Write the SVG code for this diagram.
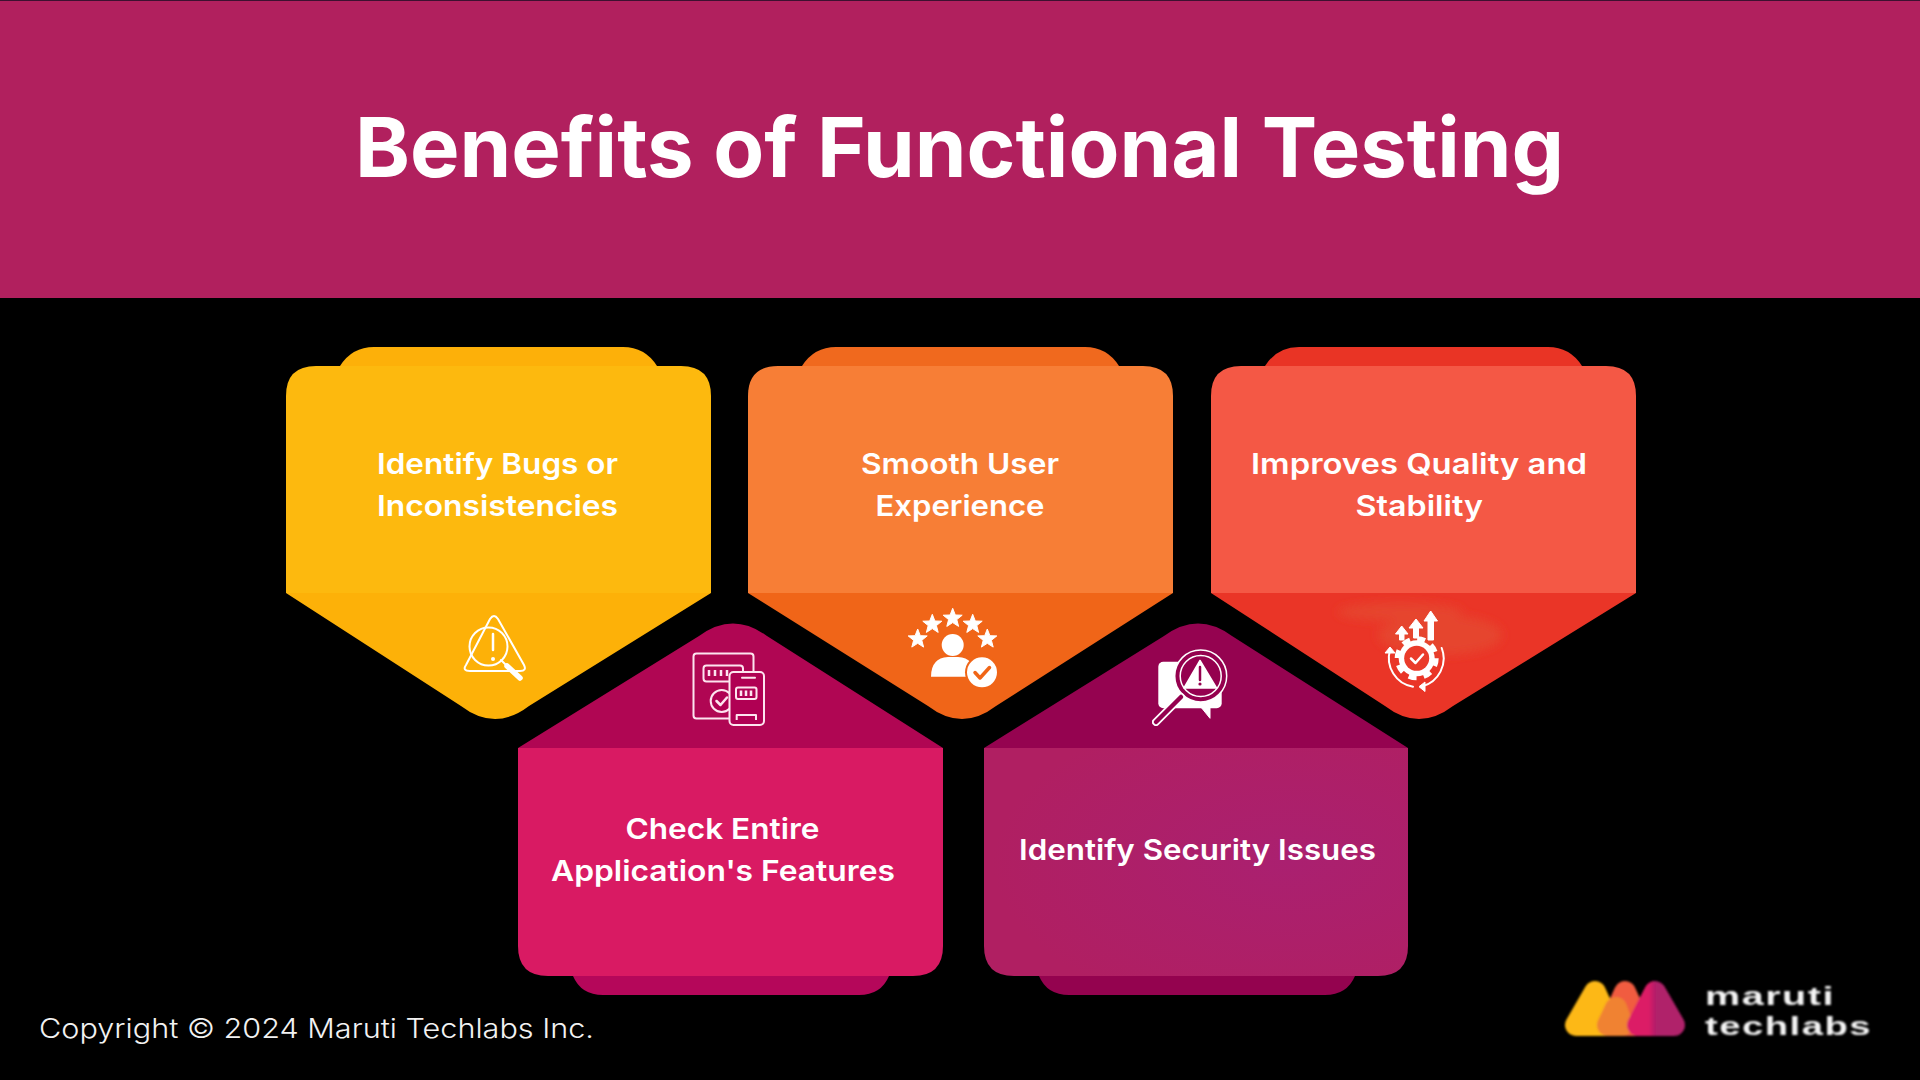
<svg xmlns="http://www.w3.org/2000/svg" width="1920" height="1080" viewBox="0 0 1920 1080">
<style>
.t{font-family:"Inter","Noto Sans",sans-serif;font-weight:600;font-size:29px;fill:#fff}
.ln{fill:none;stroke:#fff;stroke-linecap:round;stroke-linejoin:round}
</style>
<defs>
<filter id="soft" x="-5%" y="-5%" width="110%" height="110%"><feGaussianBlur stdDeviation="0.9"/></filter>
<filter id="soft2" x="-5%" y="-5%" width="110%" height="110%"><feGaussianBlur stdDeviation="0.35"/></filter>
<filter id="blot" x="-20%" y="-50%" width="140%" height="200%"><feGaussianBlur stdDeviation="5"/></filter>
<linearGradient id="half" x1="0" x2="1" y1="0" y2="0"><stop offset="0.3" stop-color="#dc1a66"/><stop offset="0.5" stop-color="#b0206a"/></linearGradient>
<radialGradient id="purp" cx="0.72" cy="0.5" r="0.7"><stop offset="0" stop-color="#aa2070"/><stop offset="1" stop-color="#b01f62"/></radialGradient>
<symbol id="star" viewBox="-10 -10 20 20" overflow="visible"><polygon points="0,-10 2.6,-3.3 9.5,-3.1 4.1,1.3 5.9,8.1 0,4.3 -5.9,8.1 -4.1,1.3 -9.5,-3.1 -2.6,-3.3" fill="#fff" stroke="#fff" stroke-linejoin="round"/></symbol>
</defs>
<rect width="1920" height="1080" fill="#000"/>
<g id="header">
<rect width="1920" height="298" fill="#b1205e"/>
<rect width="1920" height="1" fill="#3d1030"/>
<text x="355" y="177" font-family="Inter,'Noto Sans',sans-serif" font-weight="700" font-size="83" fill="#fff" textLength="1209" lengthAdjust="spacingAndGlyphs">Benefits of Functional Testing</text>
</g>

<g id="card-bugs">
<path d="M340,366 Q352,347 374,347 H623 Q645,347 657,366 Z" fill="#fdb009"/>
<path d="M286,593 L461,706 Q495,732 529,706 L711,593 Z" fill="#fdb108"/>
<path d="M286,593 V396 Q286,366 316,366 H681 Q711,366 711,396 V593 Z" fill="#fdb90e"/>
<text class="t" x="377" y="474" textLength="241" lengthAdjust="spacingAndGlyphs">Identify Bugs or</text>
<text class="t" x="377" y="516" textLength="241" lengthAdjust="spacingAndGlyphs">Inconsistencies</text>
<g id="icon-bugs" filter="url(#soft2)">
<path class="ln" stroke-width="2" d="M490,619 Q494,613 498,619 L524,665 Q527,671 520,671 H470 Q462,671 466,665 Z"/>
<circle class="ln" stroke-width="2" cx="488.5" cy="646.5" r="19"/>
<path class="ln" stroke-width="2.5" d="M493,634 V650"/>
<circle cx="493" cy="659" r="2" fill="#fff"/>
<path class="ln" stroke-width="2" d="M501,660 L507,666"/>
<path class="ln" stroke-width="5.5" d="M507,666 L520,678"/>
</g>
</g>

<g id="card-ux">
<path d="M802,366 Q814,347 836,347 H1085 Q1107,347 1119,366 Z" fill="#f0691e"/>
<path d="M748,593 L928,706 Q962,732 996,706 L1173,593 Z" fill="#f06518"/>
<path d="M748,593 V396 Q748,366 778,366 H1143 Q1173,366 1173,396 V593 Z" fill="#f77e36"/>
<text class="t" x="861" y="474" textLength="198" lengthAdjust="spacingAndGlyphs">Smooth User</text>
<text class="t" x="875.5" y="516" textLength="169" lengthAdjust="spacingAndGlyphs">Experience</text>
<g id="icon-ux" filter="url(#soft2)">
<use href="#star" x="-10" y="-10" width="20" height="20" transform="translate(917.7,639)"/>
<use href="#star" x="-10" y="-10" width="20" height="20" transform="translate(932.3,624.3)"/>
<use href="#star" x="-10" y="-10" width="20" height="20" transform="translate(952.7,618.3)"/>
<use href="#star" x="-10" y="-10" width="20" height="20" transform="translate(972.7,624.3)"/>
<use href="#star" x="-10" y="-10" width="20" height="20" transform="translate(987.3,639)"/>
<circle cx="952.7" cy="645" r="11" fill="#fff"/>
<path d="M931,676.7 Q931,658 948,657 H958 Q975,658 975,676.7 Z" fill="#fff"/>
<circle cx="982" cy="672.3" r="17" fill="#f06518"/>
<circle cx="982" cy="672.3" r="15" fill="#fff"/>
<path d="M975,672.5 L980,678 L989.5,667.5" fill="none" stroke="#f06518" stroke-width="3.5" stroke-linecap="round" stroke-linejoin="round"/>
</g>
</g>

<g id="card-quality">
<path d="M1265,366 Q1277,347 1299,347 H1548 Q1570,347 1582,366 Z" fill="#e93425"/>
<path d="M1211,593 L1385,706 Q1419,732 1453,706 L1636,593 Z" fill="#ea3527"/>
<g filter="url(#blot)" fill="#e6452f"><ellipse cx="1400" cy="612" rx="62" ry="9"/><ellipse cx="1440" cy="635" rx="62" ry="20"/></g>
<path d="M1211,593 V396 Q1211,366 1241,366 H1606 Q1636,366 1636,396 V593 Z" fill="#f45845"/>
<text class="t" x="1251" y="474" textLength="336" lengthAdjust="spacingAndGlyphs">Improves Quality and</text>
<text class="t" x="1355.5" y="516" textLength="127.5" lengthAdjust="spacingAndGlyphs">Stability</text>
<g id="icon-quality" filter="url(#soft2)">
<circle cx="1416.7" cy="658.3" r="18" fill="#fff"/>
<circle cx="1416.7" cy="658.3" r="19.5" fill="none" stroke="#fff" stroke-width="5" stroke-dasharray="8 7.3"/>
<circle cx="1416.7" cy="658.3" r="12.5" fill="#ea3a2c"/>
<path class="ln" stroke-width="2.5" d="M1411,658.5 L1415.5,663 L1423,654.5"/>
<path class="ln" stroke-width="2" d="M1413,686.7 A29,29 0 0 1 1390,650"/>
<polygon points="1390,647 1385,653 1395,653" fill="#fff" stroke="#fff" stroke-linejoin="round"/>
<path class="ln" stroke-width="2" d="M1441.7,648 A29,29 0 0 1 1422,686.5"/>
<polygon points="1419,686.7 1425,682 1425,691.5" fill="#fff" stroke="#fff" stroke-linejoin="round"/>
<polygon points="1401.7,626 1395.5,634 1399.5,634 1399.5,640 1404,640 1404,634 1408,634" fill="#fff" stroke="#fff" stroke-linejoin="round"/>
<polygon points="1416,619 1409,628 1413.5,628 1413.5,638 1418.5,638 1418.5,628 1423,628" fill="#fff" stroke="#fff" stroke-linejoin="round"/>
<polygon points="1430.7,611 1424,621 1428,621 1428,640 1433.5,640 1433.5,621 1437.5,621" fill="#fff" stroke="#fff" stroke-linejoin="round"/>
</g>
</g>

<g id="card-features">
<path d="M573,976 Q581,995 603,995 H859 Q881,995 889,976 Z" fill="#b5075a"/>
<path d="M518,748 L699,636 Q733,611 767,636 L943,748 Z" fill="#b00653"/>
<path d="M518,748 V946 Q518,976 548,976 H913 Q943,976 943,946 V748 Z" fill="#d91a63"/>
<text class="t" x="625.5" y="839" textLength="194" lengthAdjust="spacingAndGlyphs">Check Entire</text>
<text class="t" x="551" y="881" textLength="344" lengthAdjust="spacingAndGlyphs">Application's Features</text>
<g id="icon-features" filter="url(#soft2)" fill="none" stroke="#fde4ef" stroke-width="2" stroke-linejoin="round">
<rect x="693.5" y="653.5" width="60" height="65" rx="3"/>
<rect x="703.5" y="665.5" width="39.5" height="16" rx="3"/>
<path stroke-width="2.5" d="M709,670 v6 M715,670 v6 M721,670 v6 M727,670 v6"/>
<circle cx="721.7" cy="701" r="11" fill="#b00653"/>
<path stroke-width="2.5" stroke-linecap="round" d="M716.5,701 L720.5,705 L727,697.5"/>
<rect x="729.5" y="672" width="34.5" height="53" rx="4" fill="#b00653"/>
<path stroke-linecap="round" d="M742,677.7 H755"/>
<rect x="736" y="687.5" width="20.5" height="11.5" rx="2"/>
<path stroke-width="2.5" d="M741,690.5 v5.5 M746,690.5 v5.5 M751,690.5 v5.5"/>
<path d="M736.7,720 V715 H756 V720"/>
</g>
</g>

<g id="card-security">
<path d="M1039,976 Q1047,995 1069,995 H1325 Q1347,995 1355,976 Z" fill="#94034f"/>
<path d="M984,748 L1164,636 Q1198,611 1232,636 L1408,748 Z" fill="#950350"/>
<path d="M984,748 V946 Q984,976 1014,976 H1378 Q1408,976 1408,946 V748 Z" fill="url(#purp)"/>
<text class="t" x="1019" y="860" textLength="357" lengthAdjust="spacingAndGlyphs">Identify Security Issues</text>
<g id="icon-security" filter="url(#soft2)">
<rect x="1158.3" y="661.7" width="63.4" height="46.6" rx="5" fill="#fff"/>
<polygon points="1201.7,708 1210,718.3 1210,708" fill="#fff" stroke="#fff" stroke-linejoin="round"/>
<circle cx="1200.7" cy="676" r="26" fill="#950350" stroke="#fff" stroke-width="1.5"/>
<circle cx="1200.7" cy="676" r="20.5" fill="#950350" stroke="#fff" stroke-width="1.5"/>
<polygon points="1200,660.5 1184,688 1216.5,688" fill="#fff" stroke="#fff" stroke-width="1.5" stroke-linejoin="round"/>
<path d="M1200,667 V680" stroke="#950350" stroke-width="2.5" stroke-linecap="round"/>
<circle cx="1200" cy="684" r="1.6" fill="#950350"/>
<path d="M1181,697 L1156,722" stroke="#fff" stroke-width="8" stroke-linecap="round"/>
<path d="M1181,697 L1156,722" stroke="#950350" stroke-width="4.5" stroke-linecap="round"/>
</g>
</g>

<g id="footer">
<text x="39" y="1038" font-family="Inter,'Noto Sans',sans-serif" font-weight="300" font-size="27" fill="#f2f2f2" textLength="555" lengthAdjust="spacingAndGlyphs">Copyright © 2024 Maruti Techlabs Inc.</text>
</g>

<g id="logo">
<g filter="url(#soft)" stroke-linejoin="round" stroke-width="22">
<polygon points="1625,992 1610,1025 1640,1025" fill="#f15c40" stroke="#f15c40"/>
<polygon points="1595,992 1576,1025 1610,1025" fill="#fdb813" stroke="#fdb813"/>
<polygon points="1616,1008 1608,1025 1622,1025" fill="#f08233" stroke="#f08233"/>
<polygon points="1655,992 1638,1025 1674,1025" fill="url(#half)" stroke="url(#half)"/>
<text x="1705" y="1005" font-family="'Liberation Sans',sans-serif" font-weight="700" font-size="26" letter-spacing="1" fill="#f4f4f4" stroke="none" textLength="130" lengthAdjust="spacingAndGlyphs">maruti</text>
<text x="1705" y="1035" font-family="'Liberation Sans',sans-serif" font-weight="700" font-size="26" letter-spacing="1" fill="#f4f4f4" stroke="none" textLength="167" lengthAdjust="spacingAndGlyphs">techlabs</text>
</g>
</g>
</svg>
